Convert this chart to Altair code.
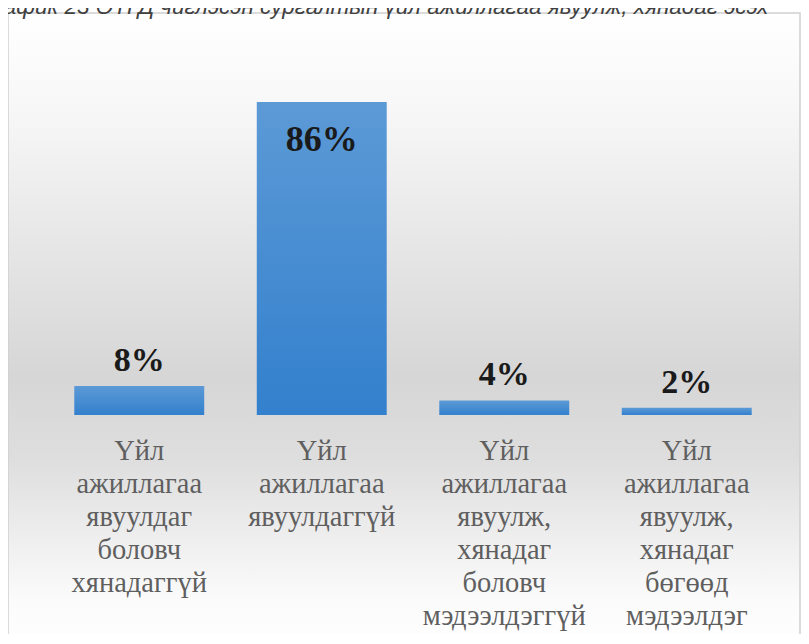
import altair as alt
import pandas as pd

categories = [
    "Үйл|ажиллагаа|явуулдаг|боловч|хянадаггүй",
    "Үйл|ажиллагаа|явуулдаггүй",
    "Үйл|ажиллагаа|явуулж,|хянадаг|боловч|мэдээлдэггүй",
    "Үйл|ажиллагаа|явуулж,|хянадаг|бөгөөд|мэдээлдэг",
]
values = [8, 86, 4, 2]
value_labels = ["8%", "86%", "4%", "2%"]
title_text = "График 23 ОТГД чиглэсэн сургалтын үйл ажиллагаа явуулж, хянадаг эсэх"

df = pd.DataFrame({"cat": categories, "value": values, "label": value_labels})

x_enc = alt.X(
    "cat:N",
    sort=categories,
    scale=alt.Scale(paddingInner=0.288, paddingOuter=0.144),
    axis=alt.Axis(
        title=None,
        domain=False,
        ticks=False,
        labelAngle=0,
        labelExpr="split(datum.label, '|')",
        labelFont="Liberation Serif",
        labelFontSize=28.5,
        labelLineHeight=33,
        labelColor="#5f5f5f",
        labelBaseline="top",
        labelPadding=21,
        labelLimit=0,
        zindex=1,
    ),
)
y_enc = alt.Y("value:Q", scale=alt.Scale(domain=[0, 100]), axis=None)

bg_gradient = alt.LinearGradient(
    gradient="linear",
    x1=0, x2=0, y1=0, y2=1,
    stops=[
        alt.GradientStop(offset=0.0, color="#ffffff"),
        alt.GradientStop(offset=0.14, color="#f8f8f8"),
        alt.GradientStop(offset=0.57, color="#d6d6d6"),
        alt.GradientStop(offset=0.7, color="#dedede"),
        alt.GradientStop(offset=0.92, color="#fbfbfb"),
        alt.GradientStop(offset=1.0, color="#ffffff"),
    ],
)

background = alt.Chart(pd.DataFrame({"d": [0]})).mark_rect(
    color=bg_gradient, stroke="#d0d0d0", strokeWidth=1.5
).encode(
    x=alt.value(-40), x2=alt.value(752), y=alt.value(-38), y2=alt.value(600)
)

title = alt.Chart(pd.DataFrame({"t": [title_text]})).mark_text(
    font="Liberation Sans", fontSize=22.5, fontStyle="italic", color="#404040",
    align="left", baseline="alphabetic"
).encode(text="t:N", x=alt.value(-68), y=alt.value(-37))

bar_gradient = alt.LinearGradient(
    gradient="linear",
    x1=0, x2=0, y1=0, y2=1,
    stops=[
        alt.GradientStop(offset=0.0, color="#5c9ad6"),
        alt.GradientStop(offset=1.0, color="#3380cd"),
    ],
)

base = alt.Chart(df)

bars = base.mark_bar(color=bar_gradient).encode(x=x_enc, y=y_enc)

labels_out = base.transform_filter("datum.value < 50").mark_text(
    font="Liberation Serif", fontSize=34, fontWeight="bold", color="#1a1a1a",
    baseline="bottom", dy=-8
).encode(x=x_enc, y=y_enc, text="label:N")

labels_in = base.transform_filter("datum.value >= 50").mark_text(
    font="Liberation Serif", fontSize=36, fontWeight="bold", color="#1a1a1a",
    baseline="middle", dy=38
).encode(x=x_enc, y=y_enc, text="label:N")

chart = alt.layer(background, title, bars, labels_out, labels_in).properties(
    width=730,
    height=364,
    autosize=alt.AutoSizeParams(type="none"),
    padding={"left": 40, "top": 43, "right": 23, "bottom": 219},
).configure_view(stroke=None).configure(background="#ffffff")

chart.save("out.html", embed_options={"renderer": "svg", "actions": False})
